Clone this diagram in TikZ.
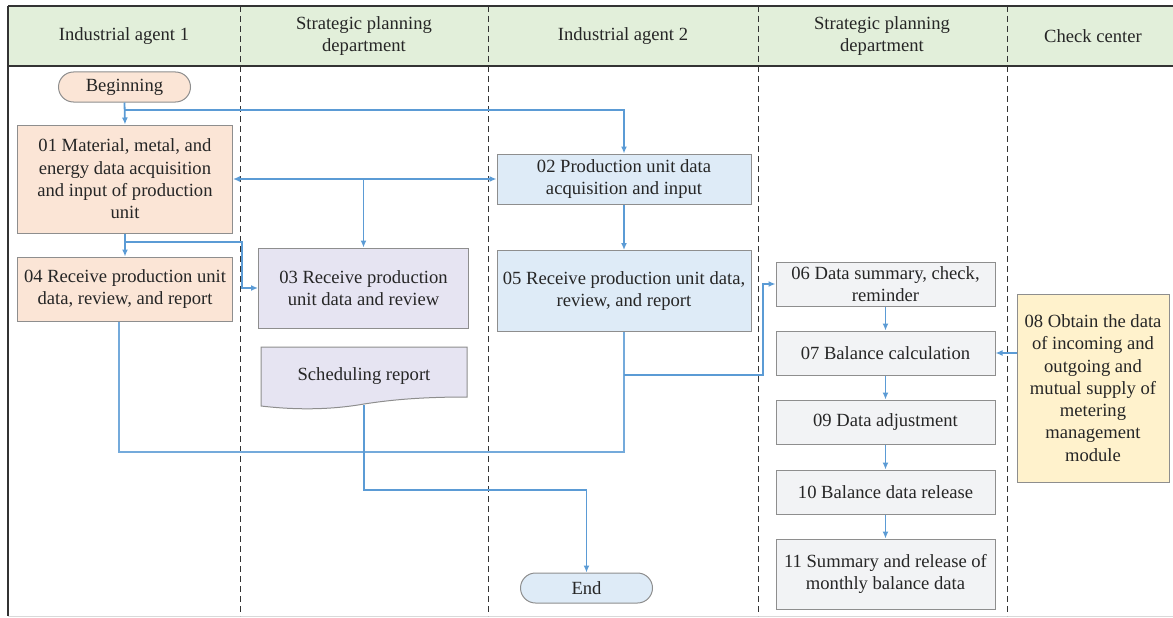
\documentclass[tikz,border=0pt]{standalone}
\usepackage{fontspec}
\setmainfont{Liberation Serif}
\usetikzlibrary{arrows.meta}
\definecolor{headGreen}{HTML}{E2EFDA}
\definecolor{peach}{HTML}{FBE5D6}
\definecolor{lavender}{HTML}{E6E4F2}
\definecolor{paleBlue}{HTML}{DEEBF7}
\definecolor{paleGray}{HTML}{F2F3F5}
\definecolor{paleYellow}{HTML}{FFF2CC}
\definecolor{flowBlue}{HTML}{5B9BD5}
\definecolor{edgeGray}{HTML}{8E8E8E}
\begin{document}
\begin{tikzpicture}[x=1pt, y=-1pt,
    font=\fontsize{18.6}{22.3}\selectfont,
    boxStyle/.style={rectangle, draw=edgeGray, line width=1pt, align=center, inner sep=2pt, text=black!85},
    termStyle/.style={boxStyle, rounded corners=15pt, minimum width=132pt, minimum height=30pt},
    headStyle/.style={align=center, text=black!85},
    arrowLine/.style={draw=flowBlue, line width=1.8pt, -{Latex[length=7pt,width=6pt]}},
    plainLine/.style={draw=flowBlue!85, line width=1.2pt},
    laneLine/.style={black!80, line width=1pt, dash pattern=on 6pt off 4pt}]
    \useasboundingbox (0,0) rectangle (1173,618);

    % header and lanes
    \fill[headGreen] (8,6) rectangle (1173,66);
    \draw[black!80, line width=1.2pt] (8,6) -- (1173,6);
    \draw[black!80, line width=1.2pt] (8,66) -- (1173,66);
    \draw[black!80, line width=1.2pt] (8,6) -- (8,616);
    \draw[black!15, line width=1pt] (8,616) -- (1173,616);
    \foreach \lx in {240, 488, 758, 1007}
        \draw[laneLine] (\lx,6) -- (\lx,616);

    \node[headStyle](h1) at (124, 36) {Industrial agent 1};
    \node[headStyle](h2) at (364, 36) {Strategic planning\\department};
    \node[headStyle](h3) at (623, 36) {Industrial agent 2};
    \node[headStyle](h4) at (882, 36) {Strategic planning\\department};
    \node[headStyle](h5) at (1093, 36) {Check center};

    % steps
    \node[termStyle, fill=peach](begin) at (124.5, 87) {Beginning};
    \node[boxStyle, fill=peach, minimum width=215pt, minimum height=108pt](n01) at (125, 179)
        {01 Material, metal, and\\energy data acquisition\\and input of production\\unit};
    \node[boxStyle, fill=peach, minimum width=215pt, minimum height=64pt](n04) at (125, 289)
        {04 Receive production unit\\data, review, and report};
    \node[boxStyle, fill=lavender, minimum width=210pt, minimum height=80pt](n03) at (363.5, 288)
        {03 Receive production\\unit data and review};
    \filldraw[fill=lavender, draw=edgeGray, line width=1pt] (261,347) -- (467,347) -- (467,397)
        .. controls (420,397) and (390,400) .. (364,404)
        .. controls (330,410) and (295,410) .. (261,406) -- cycle;
    \node[headStyle](sched) at (364, 376) {Scheduling report};
    \coordinate (schedOut) at (364, 405);
    \node[boxStyle, fill=paleBlue, minimum width=254pt, minimum height=50pt](n02) at (624, 179)
        {02 Production unit data\\acquisition and input};
    \node[boxStyle, fill=paleBlue, minimum width=254pt, minimum height=81pt](n05) at (624, 291)
        {05 Receive production unit data,\\review, and report};
    \node[termStyle, fill=paleBlue](endNode) at (586.5, 588) {End};
    \node[boxStyle, fill=paleGray, minimum width=219pt, minimum height=44pt](n06) at (885.5, 284)
        {06 Data summary, check,\\reminder};
    \node[boxStyle, fill=paleGray, minimum width=219pt, minimum height=44pt](n07) at (885.5, 353)
        {07 Balance calculation};
    \node[boxStyle, fill=paleGray, minimum width=219pt, minimum height=44pt](n09) at (885.5, 422)
        {09 Data adjustment};
    \node[boxStyle, fill=paleGray, minimum width=219pt, minimum height=44pt](n10) at (885.5, 492)
        {10 Balance data release};
    \node[boxStyle, fill=paleGray, minimum width=219pt, minimum height=70pt](n11) at (885.5, 574)
        {11 Summary and release of\\monthly balance data};
    \node[boxStyle, fill=paleYellow, minimum width=152pt, minimum height=188pt](n08) at (1093, 388)
        {08 Obtain the data\\of incoming and\\outgoing and\\mutual supply of\\metering\\management\\module};

    % connectors
    \coordinate (split1) at (124.5, 110);
    \coordinate (split2) at (125, 242);
    \coordinate (tap05) at (624, 375);
    \coordinate (loopBottom) at (624, 452);

    \draw[arrowLine] (begin.south) -- (n01.north);
    \draw[arrowLine] (split1) -| (n02.north);
    \draw[arrowLine, {Latex[length=7pt,width=6pt]}-{Latex[length=7pt,width=6pt]}] (n01.east) -- (n02.west);
    \draw[arrowLine] (n03.north |- n01.east) -- (n03.north);
    \draw[arrowLine] (n01.south) -- (n04.north);
    \draw[arrowLine] (split2) -- ++(117,0) |- (n03.west);
    \draw[arrowLine] (n02.south) -- (n05.north);
    \draw[plainLine] ([xshift=-6pt]n04.south) |- (loopBottom) -- (n05.south);
    \draw[arrowLine] (tap05) -- ++(139,0) |- (n06.west);
    \draw[arrowLine] (n06.south) -- (n07.north);
    \draw[arrowLine] (n07.south) -- (n09.north);
    \draw[arrowLine] (n09.south) -- (n10.north);
    \draw[arrowLine] (n10.south) -- (n11.north);
    \draw[arrowLine] (n08.west |- n07.east) -- (n07.east);
    \draw[arrowLine] (schedOut) -- (364, 490) -| (endNode.north);
\end{tikzpicture}
\end{document}
